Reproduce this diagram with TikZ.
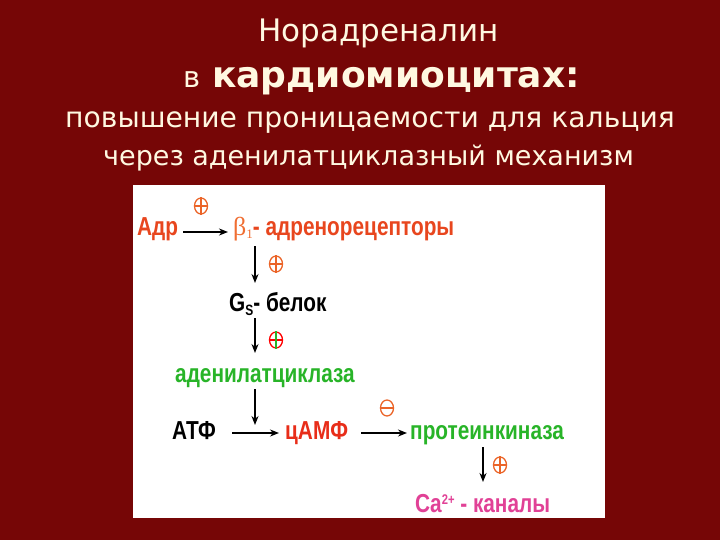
\documentclass[tikz,border=0pt]{standalone}
\usepackage{fontspec}
\setmainfont{DejaVu Sans}
\newfontfamily\dg[FakeStretch=0.8]{Liberation Sans}
\newfontfamily\bsym{Liberation Serif}
\usetikzlibrary{arrows.meta,shapes.geometric}
\definecolor{bg}{RGB}{118,6,6}
\definecolor{cream}{RGB}{255,248,225}
\definecolor{orred}{RGB}{232,70,30}
\definecolor{borange}{RGB}{240,110,50}
\definecolor{dgreen}{RGB}{40,180,40}
\definecolor{rred}{RGB}{232,45,25}
\definecolor{pink}{RGB}{225,65,150}
\definecolor{sign}{RGB}{235,100,40}
\begin{document}
\begin{tikzpicture}[x=1pt,y=-1pt,
  ttl/.style={anchor=base west,inner sep=0pt,text=cream},
  lbl/.style={anchor=base west,inner sep=0pt,font=\dg\bfseries\fontsize{26}{26}\selectfont},
  arr/.style={-{Stealth[length=9pt,width=7pt]},line width=1.8pt,black},
  sgn/.style={ellipse,draw=sign,line width=1.3pt,minimum width=13pt,minimum height=16pt,inner sep=0pt}]
\fill[bg] (0,0) rectangle (720,540);
\useasboundingbox (0,0) rectangle (720,540);
\fill[white] (133,185) rectangle (605,518);
% title
\node[ttl] (t1) at (258,42) {\fontsize{31}{31}\selectfont Норадреналин};
\node[ttl] (t2) at (183,88) {\fontsize{29}{29}\selectfont в};
\node[ttl] (t3) at (212,88) {\bfseries\fontsize{36}{36}\selectfont кардиомиоцитах:};
\node[ttl] (t4) at (65,128) {\fontsize{28.2}{28.2}\selectfont повышение проницаемости для кальция};
\node[ttl] (t5) at (103,166) {\fontsize{27}{27}\selectfont через аденилатциклазный механизм};
% diagram labels
\node[lbl,text=orred] (adr) at (137,236) {Адр};
\node[lbl,text=orred] (beta) at (233,236) {{\bsym\mdseries\color{borange}β\raisebox{-3pt}{\fontsize{13}{13}\selectfont 1}}- адренорецепторы};
\node[lbl,text=black] (gs) at (229,311) {G\raisebox{-4pt}{\fontsize{15}{15}\selectfont S}- белок};
\node[lbl,text=dgreen] (ac) at (175,382) {аденилатциклаза};
\node[lbl,text=black] (atf) at (172,439) {АТФ};
\node[lbl,text=rred] (camp) at (285,439) {цАМФ};
\node[lbl,text=dgreen] (pk) at (410,439) {протеинкиназа};
\node[lbl,text=pink] (ca) at (415,512) {Ca\raisebox{8pt}{\fontsize{14}{14}\selectfont 2+} - каналы};
% signs
\node[sgn] (s1) at (201,206) {};
\node[sgn] (s2) at (276,264) {};
\node[sgn,draw=red] (s3) at (276,340) {};
\node[sgn] (s4) at (387,408) {};
\node[sgn] (s5) at (500,465) {};
\foreach \s in {s1,s2,s5}{
  \draw[sign,line width=1.3pt] (\s.west) -- (\s.east) (\s.north) -- (\s.south);
}
\draw[red,line width=1.3pt] (s3.west) -- (s3.east);
\draw[dgreen,line width=1.3pt] (s3.north) -- (s3.south);
\draw[sign,line width=1.3pt] (s4.west) -- (s4.east);
% connectors
\coordinate (a0) at (183,232);
\coordinate (b0) at (228,232);
\coordinate (b1) at (255,246);
\coordinate (g1) at (255,283);
\coordinate (g2) at (255,318);
\coordinate (a1) at (255,353);
\coordinate (a2) at (255,389);
\coordinate (j1) at (255,425);
\coordinate (f1) at (232,433);
\coordinate (c0) at (279,433);
\coordinate (c2) at (361,433);
\coordinate (k0) at (407,433);
\coordinate (p1) at (483,447);
\coordinate (c1) at (483,482);
\draw[arr] (a0) -- (b0);
\draw[arr] (b1) -- (g1);
\draw[arr] (g2) -- (a1);
\draw[arr] (a2) -- (j1);
\draw[arr] (f1) -- (c0);
\draw[arr] (c2) -- (k0);
\draw[arr] (p1) -- (c1);
\end{tikzpicture}
\end{document}
